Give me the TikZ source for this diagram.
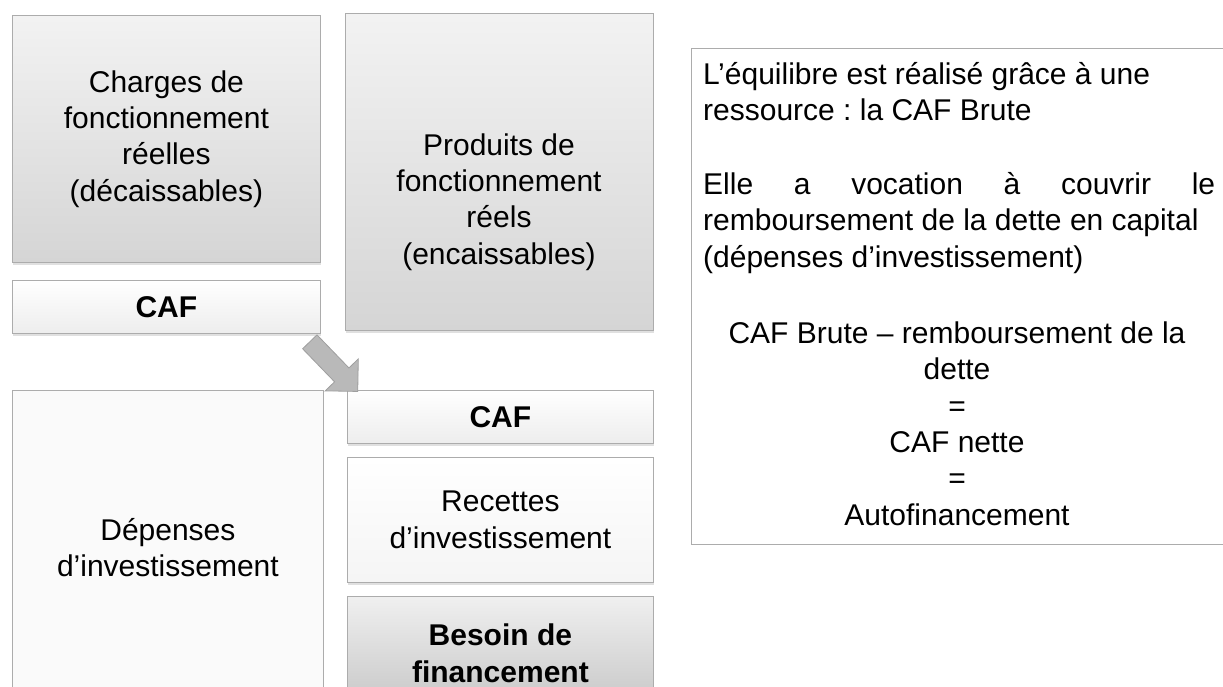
\documentclass[tikz,border=0pt]{standalone}
\usepackage{fontspec}
\setmainfont{Liberation Sans}
\usetikzlibrary{calc,shadows}

\begin{document}
\frenchspacing
\begin{tikzpicture}[x=1pt, y=-1pt,
    box/.style={draw=gray!65, line width=0.8pt, anchor=north west, inner sep=0pt, align=center,
        font=\fontsize{30}{36.3}\selectfont,
        drop shadow={shadow xshift=1pt, shadow yshift=-2.5pt, opacity=0.3, fill=gray!80}},
    darkbox/.style={box, top color=gray!10, bottom color=gray!33},
    lightbox/.style={box, top color=white, bottom color=gray!14},
    txt/.style={font=\fontsize{30}{36.3}\selectfont, inner sep=0pt}]

    \useasboundingbox (0,0) rectangle (1223,687);

    % Fonctionnement
    \node[darkbox, minimum width=308pt, minimum height=247pt] (charges) at (12,15)
        {Charges de\\fonctionnement\\réelles\\(décaissables)};
    \node[lightbox, minimum width=308pt, minimum height=53pt] (caf1) at (12,280) {\textbf{CAF}};
    \node[darkbox, minimum width=308pt, minimum height=317pt] (prod) at (345,13) {};
    \node[txt, align=center] (prodtext) at (499,202)
        {Produits de\\fonctionnement\\réels\\(encaissables)};

    % Investissement
    \node[box, fill=gray!4, minimum width=311pt, minimum height=314pt] (dep) at (12,390)
        {Dépenses\\d’investissement};
    \node[lightbox, minimum width=306pt, minimum height=53pt] (caf2) at (347,390) {\textbf{CAF}};
    \node[box, top color=white, bottom color=gray!8, minimum width=306pt, minimum height=125pt] (rec) at (347,457)
        {Recettes\\d’investissement};
    \node[box, top color=gray!12, bottom color=gray!45, minimum width=306pt, minimum height=114pt] (bes) at (347,596)
        {\textbf{Besoin de}\\\textbf{financement}};

    % Fleche CAF
    \coordinate (cafarrow) at ($(caf1.south east)+(-11,8)$);
    \begin{scope}[shift={(cafarrow)}, rotate=-46]
        \draw[fill=gray!55, draw=gray!75, line width=0.8pt]
            (0,10) -- (46,10) -- (46,23) -- (69,0) -- (46,-23) -- (46,-10) -- (0,-10) -- cycle;
    \end{scope}

    % Commentaire
    \node[draw=gray!65, line width=0.8pt, anchor=north west, minimum width=560pt, minimum height=496pt,
        inner sep=0pt] (note) at (691,48) {};
    \node[txt, anchor=base west, align=left] (equil) at (703,121)
        {L’équilibre est réalisé grâce à une\\ressource : la CAF Brute};
    \node[txt, anchor=base west, align=left] (vocation) at (703,267)
        {\makebox[512pt][s]{Elle a vocation à couvrir le}\\remboursement de la dette en capital\\(dépenses d’investissement)};
    \node[txt, anchor=base, align=center] (formule) at (957,525)
        {CAF Brute – remboursement de la\\dette\\=\\CAF nette\\=\\Autofinancement};

\end{tikzpicture}
\end{document}
